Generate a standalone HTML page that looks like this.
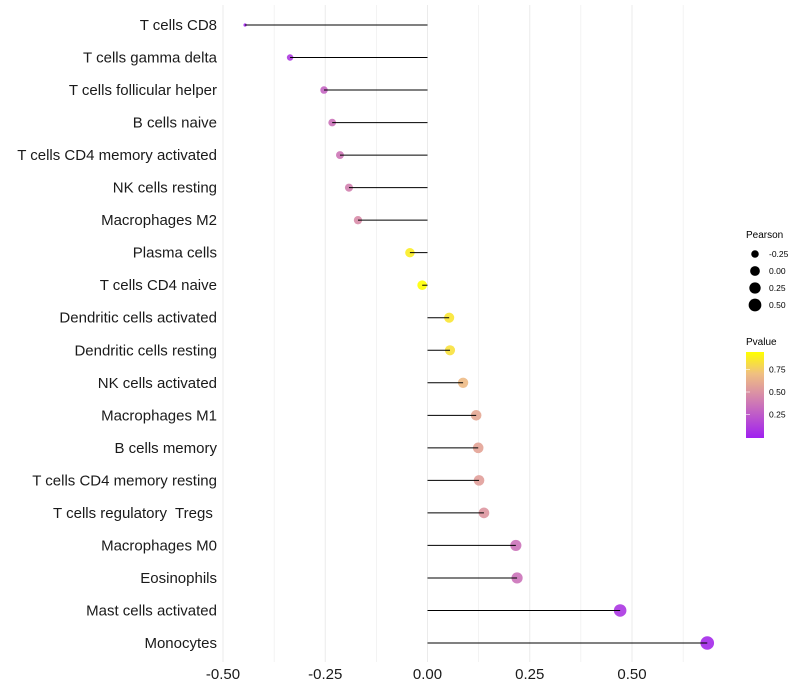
<!DOCTYPE html>
<html><head><meta charset="utf-8"><style>
body{margin:0;background:#fff;}
svg{display:block;font-family:"Liberation Sans",sans-serif;}
text{white-space:pre;}
</style></head><body>
<svg id="chart" width="800" height="700">
<g id="grid"></g>
<g id="marks"></g>
<g id="ylabels"></g>
<g id="xlabels"></g>
<g id="legend">
<defs><linearGradient id="pg" x1="0" y1="1" x2="0" y2="0">
<stop offset="0" stop-color="#a020f0"/><stop offset="0.5" stop-color="#d88ca8"/><stop offset="0.75" stop-color="#f0c080"/><stop offset="1" stop-color="#ffff00"/></linearGradient></defs>
<text x="746" y="238" font-size="10">Pearson</text>
<text x="746" y="345" font-size="10">Pvalue</text>
<rect x="746" y="352" width="18" height="86" fill="url(#pg)"/>
</g>
</svg>
<script>
const categories=["T cells CD8","T cells gamma delta","T cells follicular helper","B cells naive","T cells CD4 memory activated","NK cells resting","Macrophages M2","Plasma cells","T cells CD4 naive","Dendritic cells activated","Dendritic cells resting","NK cells activated","Macrophages M1","B cells memory","T cells CD4 memory resting","T cells regulatory  Tregs ","Macrophages M0","Eosinophils","Mast cells activated","Monocytes"];
const pearson=[-0.446,-0.336,-0.253,-0.233,-0.214,-0.192,-0.170,-0.043,-0.013,0.053,0.055,0.087,0.119,0.124,0.126,0.138,0.216,0.219,0.471,0.684];
const pvalues=[0.02,0.12,0.32,0.38,0.4,0.45,0.5,0.93,1.0,0.9,0.88,0.72,0.63,0.61,0.59,0.55,0.38,0.38,0.1,0.04];
const xTicks=[-0.5,-0.25,0,0.25,0.5];
const xTickLabels=["-0.50","-0.25","0.00","0.25","0.50"];
const sizeLegendValues=[-0.25,0,0.25,0.5];
const sizeLegendLabels=["-0.25","0.00","0.25","0.50"];
const colorLegendValues=[0.25,0.5,0.75];
const colorLegendLabels=["0.25","0.50","0.75"];

const NS="http://www.w3.org/2000/svg";
const xs=v=>427.5+v*409;
const ys=i=>25+i*(618/19);
const pmin=Math.min(...pearson),pmax=Math.max(...pearson);
const rs=v=>1.6+5.2*Math.sqrt(Math.max(0,(v-pmin)/(pmax-pmin)));
const stops=[[0,[160,32,240]],[0.5,[216,140,168]],[0.75,[240,192,128]],[1,[255,255,0]]];
function col(p){for(let i=1;i<stops.length;i++){if(p<=stops[i][0]){const a=stops[i-1],b=stops[i],t=(p-a[0])/(b[0]-a[0]);return "rgb("+a[1].map((c,k)=>Math.round(c+(b[1][k]-c)*t)).join(",")+")";}}return "rgb(255,255,0)";}
function mk(tag,attrs,parent){const e=document.createElementNS(NS,tag);for(const k in attrs)e.setAttribute(k,attrs[k]);parent.appendChild(e);return e;}
const grid=document.getElementById('grid'),marks=document.getElementById('marks'),yl=document.getElementById('ylabels'),xl=document.getElementById('xlabels'),lg=document.getElementById('legend');
for(let v=-0.5;v<=0.626;v+=0.125){const l=mk('line',{x1:xs(v),x2:xs(v),y1:5,y2:662,stroke:'#ebebeb','stroke-width':Math.abs((v*4)%1)<1e-6?1:0.6},grid);

}
categories.forEach((c,i)=>{
const t=mk('text',{x:217,y:ys(i)+5,'text-anchor':'end','font-size':15,fill:'#1a1a1a'},yl);t.textContent=c;


const p=mk('circle',{cx:xs(pearson[i]),cy:ys(i),r:rs(pearson[i]),fill:col(pvalues[i]),'fill-opacity':0.9},marks);


const s=mk('line',{x1:xs(0),x2:xs(pearson[i]),y1:ys(i),y2:ys(i),stroke:'#000','stroke-width':1},marks);


});
xTicks.forEach((v,i)=>{const t=mk('text',{x:xs(v),y:679,'text-anchor':'middle','font-size':15,fill:'#1a1a1a'},xl);t.textContent=xTickLabels[i];

});
sizeLegendValues.forEach((v,i)=>{const y=254+i*17;
const c=mk('circle',{cx:755,cy:y,r:rs(v),fill:'#000'},lg);


const t=mk('text',{x:769,y:y+3,'font-size':8.5},lg);t.textContent=sizeLegendLabels[i];

});
colorLegendValues.forEach((v,i)=>{const y=437-v*90;
const tk=mk('line',{x1:746,x2:750,y1:y,y2:y,stroke:'#fff','stroke-width':0.6},lg);


const t=mk('text',{x:769,y:y+3,'font-size':8.5},lg);t.textContent=colorLegendLabels[i];

});
</script>
</body></html>
